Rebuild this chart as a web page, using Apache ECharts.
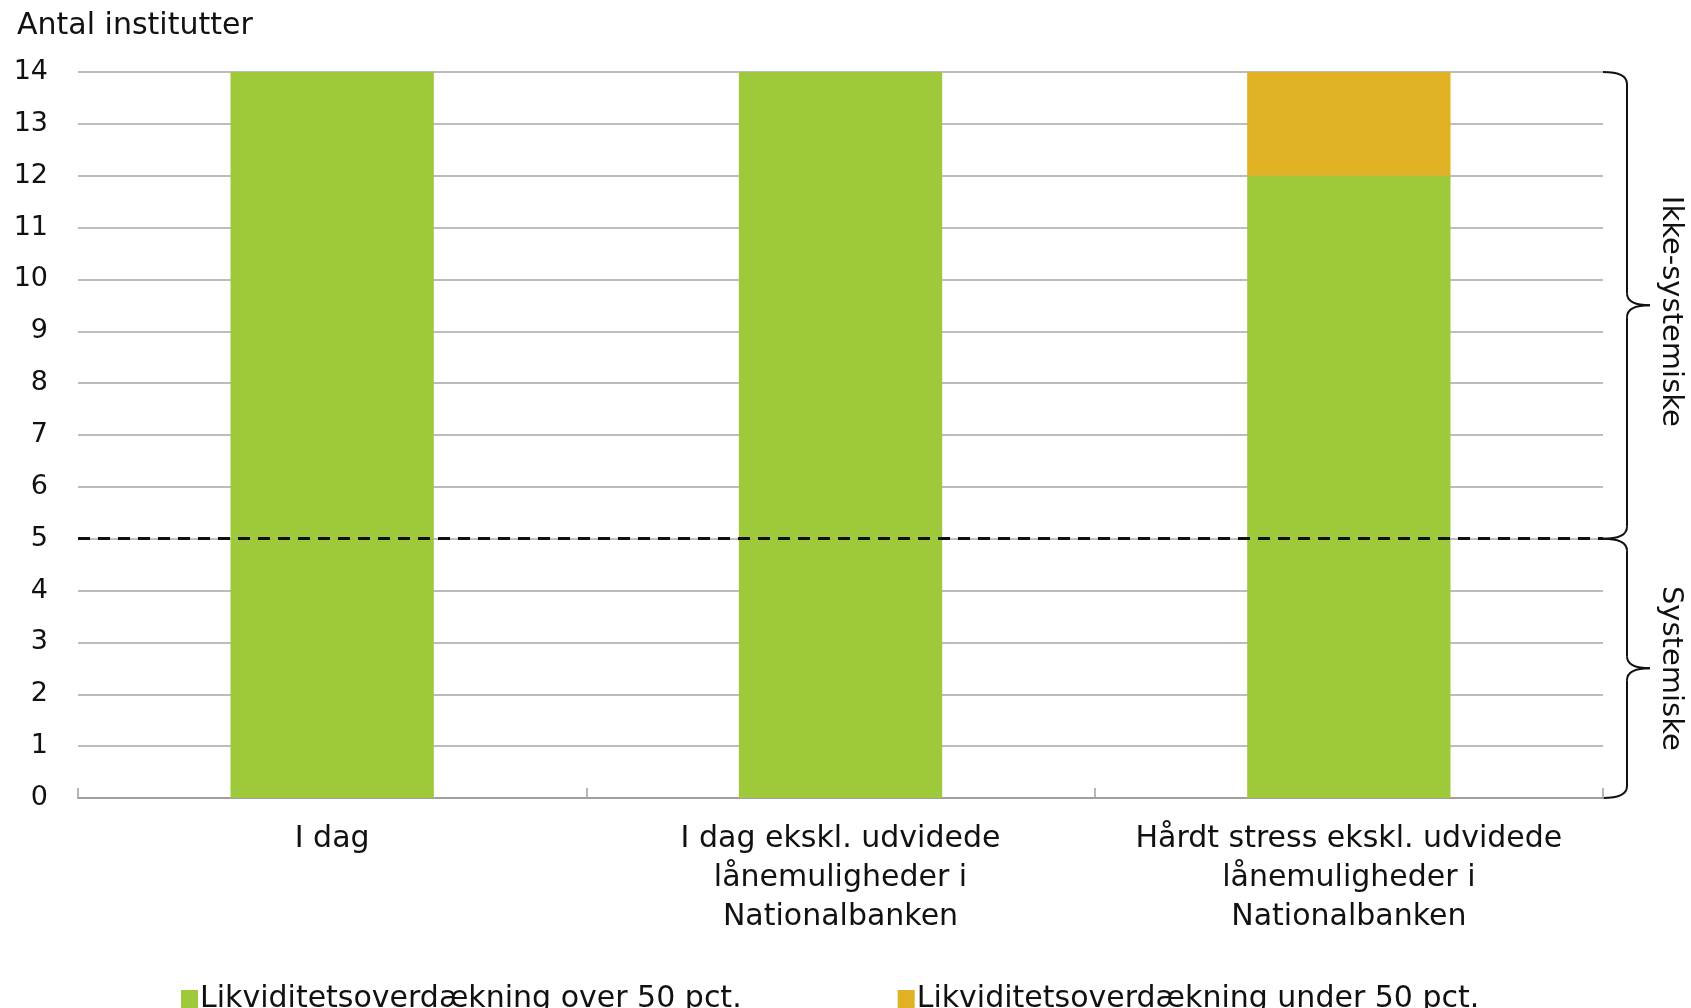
<!DOCTYPE html>
<html>
<head>
<meta charset="utf-8">
<script src="https://cdn.jsdelivr.net/npm/echarts@6/dist/echarts.min.js"></script>
<style>
  html, body { margin: 0; padding: 0; background: #fff; }
  #chart { width: 1691px; height: 1008px; }
</style>
</head>
<body>
<div id="chart"></div>
<script>
const categories = [
  'I dag',
  'I dag ekskl. udvidede\nlånemuligheder i\nNationalbanken',
  'Hårdt stress ekskl. udvidede\nlånemuligheder i\nNationalbanken'
];
const overFifty = [14, 14, 12];
const underFifty = [0, 0, 2];
const seriesNames = ['Likviditetsoverdækning over 50 pct.', 'Likviditetsoverdækning under 50 pct.'];
const yTicks = [0, 14, 1]; // min, max, interval
const thresholdLine = 5;
const braceBounds = [0, 5, 14];
const braceLabels = ['Systemiske', 'Ikke-systemiske'];

const FONT = '"DejaVu Sans", "Noto Sans", sans-serif';
const chart = echarts.init(document.getElementById('chart'));

const option = {
  animation: false,
  textStyle: { fontFamily: FONT },
  grid: { left: 78, right: 88, top: 72, bottom: 210, containLabel: false },
  title: {
    text: 'Antal institutter',
    left: 12, top: 6,
    textStyle: { fontFamily: FONT, fontSize: 30, fontWeight: 'normal', color: '#111' }
  },
  legend: {
    left: 176, top: 979,
    itemWidth: 17, itemHeight: 18, itemGap: 156,
    icon: 'rect',
    textStyle: { fontFamily: FONT, fontSize: 30, color: '#111', padding: [0, 0, 0, -3] },
    data: seriesNames
  },
  xAxis: {
    type: 'category',
    data: categories,
    axisLine: { lineStyle: { color: '#a0a0a0', width: 2 } },
    axisTick: { show: true, inside: true, interval: 0, length: 10, lineStyle: { color: '#a0a0a0', width: 1.5 } },
    axisLabel: { color: '#111', fontSize: 30, lineHeight: 39, margin: 22, interval: 0, hideOverlap: false, fontFamily: FONT }
  },
  yAxis: {
    type: 'value',
    min: yTicks[0], max: yTicks[1], interval: yTicks[2],
    axisLine: { show: false },
    axisTick: { show: false },
    axisLabel: { color: '#111', fontSize: 27, margin: 30, fontFamily: FONT },
    splitLine: { lineStyle: { color: '#a6a6a6', width: 1.5 } }
  },
  series: [
    {
      name: seriesNames[0],
      type: 'bar',
      stack: 'total',
      barWidth: '40%',
      itemStyle: { color: '#9ec93a' },
      data: overFifty
    },
    {
      name: seriesNames[1],
      type: 'bar',
      stack: 'total',
      barWidth: '40%',
      itemStyle: { color: '#e0b122' },
      data: underFifty,
      markLine: {
        silent: true,
        symbol: 'none',
        label: { show: false },
        lineStyle: { color: '#111', type: [12, 8], width: 3 },
        data: [{ yAxis: thresholdLine }]
      }
    }
  ]
};
chart.setOption(option);

// braces on the right, placed from the y axis values
function drawBraces() {
  const grid = chart.getModel().getComponent('grid').coordinateSystem.getRect();
  const x0 = grid.x + grid.width;
  const xv = x0 + 24;
  const xm = x0 + 47;
  const r = 12;
  const stroke = { stroke: '#111', lineWidth: 2, fill: null };
  const curve = (x1, y1, cx, cy, x2, y2) => ({
    type: 'bezierCurve',
    shape: { x1: x1, y1: y1, cpx1: cx, cpy1: cy, x2: x2, y2: y2 },
    style: stroke
  });
  const line = (x1, y1, x2, y2) => ({
    type: 'line',
    shape: { x1: x1, y1: y1, x2: x2, y2: y2 },
    style: stroke
  });
  const elements = [];
  for (let i = 0; i < braceLabels.length; i++) {
    const yBot = chart.convertToPixel({ yAxisIndex: 0 }, braceBounds[i]);
    const yTop = chart.convertToPixel({ yAxisIndex: 0 }, braceBounds[i + 1]);
    const ym = (yTop + yBot) / 2;
    elements.push(
      curve(x0, yTop, xv, yTop, xv, yTop + r),
      line(xv, yTop + r, xv, ym - r),
      curve(xv, ym - r, xv, ym, xm, ym),
      curve(xm, ym, xv, ym, xv, ym + r),
      line(xv, ym + r, xv, yBot - r),
      curve(xv, yBot - r, xv, yBot, x0, yBot)
    );
    elements.push({
      type: 'text',
      x: x0 + 68, y: ym + (i === 1 ? 6 : 0),
      rotation: -Math.PI / 2,
      style: {
        text: braceLabels[i],
        font: '29px ' + FONT,
        fill: '#111',
        align: 'center',
        verticalAlign: 'middle'
      }
    });
  }
  chart.setOption({ graphic: elements });
}
drawBraces();
</script>
</body>
</html>
